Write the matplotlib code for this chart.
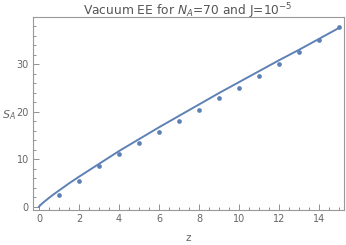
import matplotlib
matplotlib.use("Agg")
import matplotlib.pyplot as plt
from matplotlib.ticker import MultipleLocator

# Data points
z_pts = [1, 2, 3, 4, 5, 6, 7, 8, 9, 10, 11, 12, 13, 14, 15]
s_pts = [2.5, 5.3, 8.6, 11.0, 13.4, 15.7, 18.0, 20.4, 22.8, 25.0, 27.4, 30.0, 32.5, 35.1, 37.8]

# Fitted curve
z_curve = [0, 0.1, 0.25, 0.5, 0.75, 1, 1.5, 2, 3, 4, 5, 6, 7, 8, 9, 10, 11, 12, 13, 14, 15]
s_curve = [0, 0.45, 1.0, 1.85, 2.65, 3.4, 4.9, 6.3, 9.0, 11.7, 14.2, 16.7, 19.1, 21.5,
           23.9, 26.2, 28.5, 30.8, 33.0, 35.3, 37.6]

x_ticks = [0, 2, 4, 6, 8, 10, 12, 14]
y_ticks = [0, 10, 20, 30]

blue = "#5E81B5"
gray = "#808080"

fig = plt.figure(figsize=(3.46, 2.45), dpi=100)
ax = fig.add_axes([33/346, (245-210)/245, (344-33)/346, (210-17)/245])

ax.plot(z_curve, s_curve, color=blue, lw=1.4)
ax.plot(z_pts, s_pts, 'o', color=blue, ms=3.4, mec='none')

ax.set_xlim(-0.3, 15.25)
ax.set_ylim(-0.7, 39.9)
ax.set_xticks(x_ticks)
ax.set_yticks(y_ticks)
ax.xaxis.set_minor_locator(MultipleLocator(0.5))
ax.yaxis.set_minor_locator(MultipleLocator(2))
ax.tick_params(which='both', direction='in', colors=gray, labelcolor='#666666',
               labelsize=7, width=0.6, top=False, right=False, pad=3)
ax.tick_params(which='major', length=4)
ax.tick_params(which='minor', length=2)
for sp in ax.spines.values():
    sp.set_color('#999999')
    sp.set_linewidth(0.8)

fig.text(188/346, (245-15)/245, r"Vacuum EE for $N_A$=70 and J=$10^{-5}$",
         fontsize=8.8, color='#555555', ha='center', va='baseline')
ax.set_xlabel("z", fontsize=7.5, color='#666666', labelpad=6)
ax.set_ylabel(r"$S_A$", fontsize=8, color='#666666', rotation=0, va='center', ha='center')
ax.yaxis.set_label_coords(-0.078, 0.49)

fig.savefig("out.png", dpi=100)
